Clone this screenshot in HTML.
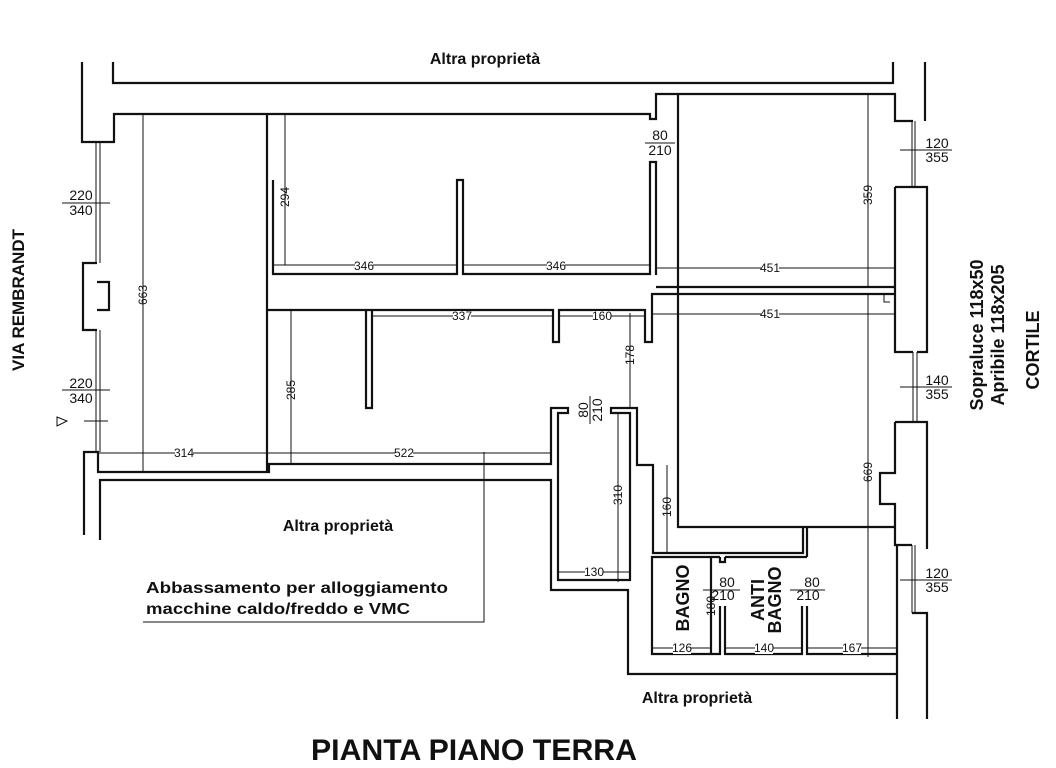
<!DOCTYPE html>
<html><head><meta charset="utf-8"><style>
html,body{margin:0;padding:0;background:#fff;}
svg{display:block;}
text{font-family:"Liberation Sans",sans-serif;fill:#111;}
.b{font-weight:bold;}
</style></head><body>
<svg width="1056" height="768" viewBox="0 0 1056 768" xmlns="http://www.w3.org/2000/svg">
<g fill="none" stroke="#111" stroke-width="2.2" stroke-linejoin="miter">
<path d="M113,62 V83 H893 V62"/>
<path d="M82,62 V142 H114 V114 H650 V119 H656 V94 H895 V121 H913"/>
<path d="M925,62 V121"/>
<path d="M895,187 H927 V352 H917"/>
<path d="M895,187 V352 H913"/>
<path d="M895,422 H927 V549"/>
<path d="M895,422 V473 H880 V504 H895 V545 H912"/>
<path d="M912,613 H927 V719"/>
<path d="M897,545 V719"/>
<path d="M97,263 H83 V330 H97 M97,282 H109 V310 H97"/>
<path d="M267,114 V472"/>
<path d="M273,180 V274 H457 V180 H463 V274 H650 V162 H656 V275"/>
<path d="M267,310 H553 V342 H559 V310 H645 V342 H652 V294 H895"/>
<path d="M656,287 H895"/>
<path d="M366,310 V408 H372 V310"/>
<path d="M678,94 V527 H895"/>
<path d="M84,535 V452 H98 V472 H269 V464 H551 V408 H568 V413 H558 V580 H630 V413 H611 V408 H637 V465 H653 V553 H803 V527 M807,527 V557"/>
<path d="M100,540 V480 H551 V590 H628 V674 H897"/>
<path d="M720,557 H652 V654 H720 V606 M725,606 V654 H802 V606 M807,606 V654 H897"/>
<path d="M725,557 H807 M711,557 V654 M720,557 V562 H725 V557"/>
</g>
<g fill="none" stroke="#111" stroke-width="1">
<path d="M96,142 V263 M100,142 V263 M96,330 V452 M100,330 V452"/>
<path d="M912,121 V187 M915,121 V187 M913,352 V422 M917,352 V422 M912,545 V613 M915,545 V613"/>
<path d="M143,114 V472 M285,114 V265 M291,310 V464"/>
<path d="M273,265 H457 M463,265 H651 M655,268 H895 M652,314 H895"/>
<path d="M372,316 H553 M560,316 H645 M630,313 V408"/>
<path d="M98,453 H551"/>
<path d="M484,452 V622 H143"/>
<path d="M618,414 V582 M557,572 H630 M667,465 V553"/>
<path d="M868,94 V287 M868,294 V657"/>
<path d="M652,648 H711 M725,648 H802 M807,648 H897"/>
<path d="M62,203 H110 M62,390 H110 M84,421 H108"/>
<path d="M900,150 H952 M900,387 H952 M900,580 H952"/>
<path d="M645,143 H675 M703,590 H740 M790,590 H825 M590,396 V424"/>
<path d="M884,294 V302 H890"/>
<path d="M57,417 L67,421 L57,426 Z"/>
</g>
<g font-size="12" text-anchor="middle">
<g fill="#fff" stroke="none">
<rect x="175" y="447" width="18" height="11"/><rect x="395" y="447" width="18" height="11"/>
<rect x="355" y="260" width="18" height="11"/><rect x="547" y="260" width="18" height="11"/><rect x="761" y="263" width="18" height="11"/>
<rect x="453" y="311" width="18" height="11"/><rect x="593" y="311" width="18" height="11"/><rect x="761" y="309" width="18" height="11"/>
<rect x="585" y="566" width="18" height="11"/><rect x="673" y="643" width="18" height="11"/><rect x="755" y="643" width="18" height="11"/><rect x="843" y="643" width="18" height="11"/>
</g>
<text x="184" y="457">314</text><text x="404" y="457">522</text>
<text x="364" y="270">346</text><text x="556" y="270">346</text><text x="770" y="272">451</text>
<text x="462" y="320">337</text><text x="602" y="320">160</text><text x="770" y="318">451</text>
<text x="594" y="576">130</text><text x="682" y="652">126</text><text x="764" y="652">140</text><text x="852" y="652">167</text>
<text transform="translate(147,295) rotate(-90)">663</text>
<text transform="translate(289,197) rotate(-90)">294</text>
<text transform="translate(295,390) rotate(-90)">285</text>
<text transform="translate(634,355) rotate(-90)">178</text>
<text transform="translate(622,495) rotate(-90)">310</text>
<text transform="translate(671,507) rotate(-90)">160</text>
<text transform="translate(872,195) rotate(-90)">359</text>
<text transform="translate(872,472) rotate(-90)">669</text>
<text transform="translate(715,606) rotate(-90)">180</text>
</g>
<g font-size="14" text-anchor="middle">
<text x="81" y="200">220</text><text x="81" y="215">340</text>
<text x="81" y="388">220</text><text x="81" y="403">340</text>
<text x="660" y="140">80</text><text x="660" y="155">210</text>
<text x="727" y="587">80</text><text x="723" y="600">210</text>
<text x="812" y="587">80</text><text x="808" y="600">210</text>
<text x="937" y="148">120</text><text x="937" y="162">355</text>
<text x="937" y="385">140</text><text x="937" y="399">355</text>
<text x="937" y="578">120</text><text x="937" y="592">355</text>
<text transform="translate(588,410) rotate(-90)">80</text>
<text transform="translate(602,410) rotate(-90)">210</text>
</g>
<g class="b" font-size="16">
<text class="b" x="485" y="64" text-anchor="middle">Altra proprietà</text>
<text class="b" x="338" y="531" text-anchor="middle">Altra proprietà</text>
<text class="b" x="697" y="703" text-anchor="middle">Altra proprietà</text>
<text class="b" x="146" y="593" font-size="16" textLength="302" lengthAdjust="spacingAndGlyphs">Abbassamento per alloggiamento</text>
<text class="b" x="146" y="614" font-size="16" textLength="264" lengthAdjust="spacingAndGlyphs">macchine caldo/freddo e VMC</text>
<text class="b" transform="translate(24,300) rotate(-90)" text-anchor="middle" font-size="17">VIA REMBRANDT</text>
<text class="b" transform="translate(983,335) rotate(-90)" text-anchor="middle" font-size="18">Sopraluce 118x50</text>
<text class="b" transform="translate(1004,335) rotate(-90)" text-anchor="middle" font-size="18">Apribile 118x205</text>
<text class="b" transform="translate(1039,350) rotate(-90)" text-anchor="middle" font-size="18">CORTILE</text>
<text class="b" transform="translate(689,598) rotate(-90)" text-anchor="middle" font-size="18">BAGNO</text>
<text class="b" transform="translate(764,600) rotate(-90)" text-anchor="middle" font-size="18">ANTI</text>
<text class="b" transform="translate(781,600) rotate(-90)" text-anchor="middle" font-size="18">BAGNO</text>
<text class="b" x="311" y="760" font-size="30" textLength="326" lengthAdjust="spacingAndGlyphs">PIANTA PIANO TERRA</text>
</g>
</svg>
</body></html>
